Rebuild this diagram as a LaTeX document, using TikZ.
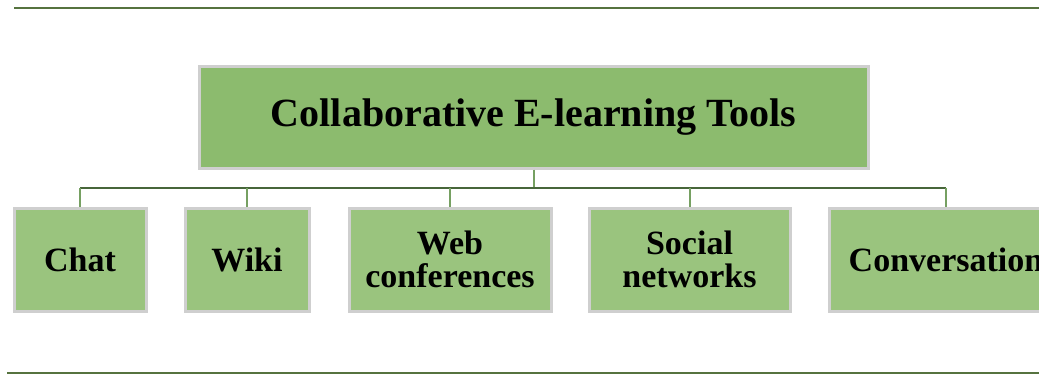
\documentclass[tikz,border=0pt]{standalone}
\usepackage{fontspec}
\setmainfont{Liberation Serif}
\begin{document}
\begin{tikzpicture}[x=1pt,y=-1pt,
  rule/.style={draw=ruleGreen,line width=2pt},
  bus/.style={draw=busGreen,line width=2pt},
  drop/.style={draw=dropGreen,line width=2pt},
  topbox/.style={rectangle,draw=frameGray,line width=3pt,fill=topFill,
    minimum width=669pt,minimum height=102pt,inner sep=0pt,
    font=\fontsize{40}{40}\selectfont\bfseries},
  leaf/.style={rectangle,draw=frameGray,line width=3pt,fill=leafFill,
    minimum height=103pt,inner sep=0pt,align=center,
    font=\fontsize{34}{33}\selectfont\bfseries}]
\definecolor{ruleGreen}{HTML}{56733F}
\definecolor{busGreen}{HTML}{47663A}
\definecolor{dropGreen}{HTML}{76A062}
\definecolor{frameGray}{HTML}{CFCFCF}
\definecolor{topFill}{HTML}{8CBB6E}
\definecolor{leafFill}{HTML}{9AC47E}
\useasboundingbox (0,0) rectangle (1039,375);
\clip (0,0) rectangle (1039,375);
\fill[white] (0,0) rectangle (1039,375);

% horizontal rules above and below
\coordinate (ruleTopL) at (14,8);
\coordinate (ruleTopR) at (1039,8);
\coordinate (ruleBotL) at (7,373);
\coordinate (ruleBotR) at (1039,373);
\draw[rule] (ruleTopL) -- (ruleTopR);
\draw[rule] (ruleBotL) -- (ruleBotR);

% root and leaves
\node[topbox] (root) at (533.5,117) {Collaborative E-learning Tools};
\node[leaf,minimum width=132pt] (chat) at (80,259.5) {Chat};
\node[leaf,minimum width=124pt] (wiki) at (247,259.5) {Wiki};
\node[leaf,minimum width=202pt] (web) at (450,259.5) {Web\\conferences};
\node[leaf,minimum width=201pt] (social) at (689.5,259.5) {Social\\networks};
\node[leaf,minimum width=234pt] (conv) at (946,259.5) {Conversation};

% connectors
\coordinate (hub) at (533.5,188);
\draw[drop] (root.south) -- (hub);
\draw[bus] (chat.north |- hub) -- (conv.north |- hub);
\foreach \n in {chat,wiki,web,social,conv}
  \draw[drop] (\n.north |- hub) -- (\n.north);
\end{tikzpicture}
\end{document}
